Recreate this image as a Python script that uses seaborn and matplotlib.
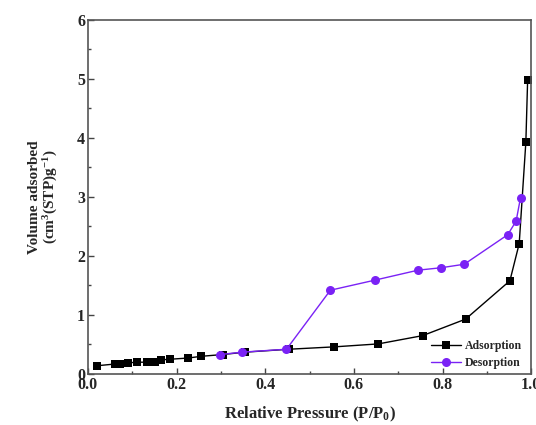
import matplotlib
matplotlib.use("Agg")
import matplotlib.pyplot as plt
import seaborn as sns
import pandas as pd

ads_x = [0.021, 0.062, 0.073, 0.091, 0.111, 0.134, 0.151, 0.165, 0.185, 0.225, 0.256,
         0.304, 0.354, 0.454, 0.556, 0.655, 0.755, 0.852, 0.952, 0.973, 0.988, 0.992]
ads_y = [0.14, 0.17, 0.17, 0.19, 0.20, 0.20, 0.21, 0.24, 0.25, 0.27, 0.30,
         0.33, 0.37, 0.42, 0.46, 0.51, 0.65, 0.93, 1.58, 2.21, 3.93, 4.98]
des_x = [0.298, 0.348, 0.448, 0.547, 0.647, 0.745, 0.796, 0.849, 0.947, 0.966, 0.976]
des_y = [0.33, 0.37, 0.42, 1.42, 1.59, 1.76, 1.80, 1.86, 2.36, 2.59, 2.99]

x_ticks = [0.0, 0.2, 0.4, 0.6, 0.8, 1.0]
y_ticks = [0, 1, 2, 3, 4, 5, 6]

sns.set_style("ticks")
plt.rcParams["font.family"] = ["Liberation Serif", "DejaVu Serif"]
plt.rcParams["mathtext.fontset"] = "custom"
plt.rcParams["mathtext.rm"] = "Liberation Serif:bold"
plt.rcParams["mathtext.bf"] = "Liberation Serif:bold"
plt.rcParams["mathtext.it"] = "Liberation Serif:bold"
plt.rcParams["mathtext.default"] = "bf"

fig = plt.figure(figsize=(5.36, 4.25), dpi=100)
ax = fig.add_axes([0.164, 0.12, 0.827, 0.833])

ads = pd.DataFrame({"x": ads_x, "y": ads_y})
des = pd.DataFrame({"x": des_x, "y": des_y})

sns.lineplot(data=ads, x="x", y="y", sort=False, color="black", marker="s",
             markersize=6, markeredgewidth=0, linewidth=1.0, label="Adsorption", ax=ax)
sns.lineplot(data=des, x="x", y="y", sort=False, color="#7A22F5", marker="o",
             markersize=6.5, markeredgewidth=0, linewidth=1.0, label="Desorption", ax=ax)

ax.set_xlim(0, 1.0)
ax.set_ylim(0, 6)
ax.set_xticks(x_ticks)
ax.set_xticklabels([f"{t:.1f}" for t in x_ticks])
ax.set_yticks(y_ticks)
ax.set_yticklabels([str(t) for t in y_ticks])
ax.set_xticks([0.1, 0.3, 0.5, 0.7, 0.9], minor=True)
ax.set_yticks([0.5, 1.5, 2.5, 3.5, 4.5, 5.5], minor=True)
ax.tick_params(axis="both", which="major", direction="in", length=4, width=1,
               labelsize=11.5, pad=2, color="#444444")
ax.tick_params(axis="both", which="minor", direction="in", length=2, width=1, color="#444444")
for lab in ax.get_xticklabels() + ax.get_yticklabels():
    lab.set_fontweight("bold")
for s in ax.spines.values():
    s.set_visible(True)
    s.set_color("#555555")
    s.set_linewidth(1.2)

ax.set_xlabel("Relative Pressure (P/P$_0$)", fontsize=12, fontweight="bold", labelpad=9)
ax.set_ylabel("Volume adsorbed\n(cm$^3$(STP)g$^{-1}$)", fontsize=11, fontweight="bold",
              labelpad=12, linespacing=1.1)

leg = ax.legend(loc="lower right", bbox_to_anchor=(0.99, 0.0), frameon=False,
                fontsize=8.5, handlelength=2.6, handletextpad=0.3, labelspacing=0.45,
                borderaxespad=0.0)
for t in leg.get_texts():
    t.set_fontweight("bold")

fig.savefig("out.png", dpi=100)
